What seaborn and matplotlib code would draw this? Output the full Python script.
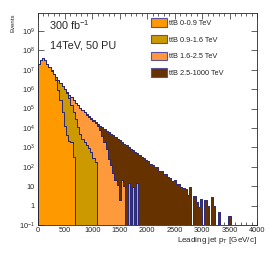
import numpy as np
import pandas as pd
import matplotlib
matplotlib.use("Agg")
import matplotlib.pyplot as plt
import seaborn as sns
from matplotlib.patches import Patch
from matplotlib.ticker import FixedLocator, MultipleLocator, LogLocator, NullFormatter

# --- DATA (events per 40 GeV bin, bins start at 0) ---
BIN_WIDTH = 40
samples = ["ttB 0-0.9 TeV", "ttB 0.9-1.6 TeV", "ttB 1.6-2.5 TeV", "ttB 2.5-1000 TeV"]
labels = ["tt\u0304B 0-0.9 TeV", "tt\u0304B 0.9-1.6 TeV", "tt\u0304B 1.6-2.5 TeV", "tt\u0304B 2.5-1000 TeV"]
colors = ["#ff9900", "#cc9900", "#ff9a3c", "#663300"]

ht_0_09 = [1.98e7, 3.28e7, 4.15e7, 3.12e7, 1.94e7, 1.33e7, 8.6e6, 5.9e6, 2.8e6, 9.0e5,
           2.8e5, 6.5e4, 1.3e4, 4.5e3, 2.2e3, 1.9e3, 3.2e2]
ht_09_16 = [1e5, 2e5, 3e5, 4e5, 5e5, 6e5, 7e5, 4.0e5, 1.58e6, 2.07e6,
            1.78e6, 1.375e6, 9.57e5, 6.155e5, 3.58e5, 1.58e5, 6.3e4, 2.8e4, 1.1e4, 5.0e3,
            2.8e3, 2.0e3, 1.26e3, 9.0e2, 5.6e2, 2.8e2, 1.8e2]
ht_16_25 = [2e3, 3e3, 4e3, 5e3, 6e3, 8e3, 1e4, 1.5e4, 2e4, 3e4,
            4e4, 6e4, 8e4, 1.0e5, 1.5e5, 2.2e5, 2.1e5, 1.71e5, 1.33e5, 1.01e5,
            7.7e4, 6.2e4, 4.77e4, 3.76e4, 2.94e4, 2.22e4, 1.7e4, 1.26e4, 7.9e3, 4.0e3,
            2.0e3, 7.9e2, 2.5e2, 1.26e2, 50, 22, 11, 2, 20, 10,
            0, 14, 0, 9, 0, 14]
ht_25_1000 = [2e2, 2e2, 2e2, 2e2, 2e2, 2e2, 2e2, 2e2, 2e2, 2e2,
              2e2, 2e2, 2e2, 5e2, 5e2, 5e2, 5e2, 5e2, 1e3, 1e3,
              1e3, 1e3, 2.0e3, 2.5e3, 3.0e3, 3.5e3, 3.8e3, 4.0e3, 5.3e3, 7.0e3,
              6.9e3, 6.6e3, 5.95e3, 4.87e3, 4.15e3, 3.38e3, 2.79e3, 2.3e3, 1.88e3, 1.54e3,
              1.29e3, 1.056e3, 8.7e2, 7.1e2, 5.9e2, 4.75e2, 4.0e2, 3.3e2, 2.7e2, 2.24e2,
              1.95e2, 1.45e2, 1.3e2, 95, 92, 64, 60, 44, 42, 30,
              28, 19, 20, 13, 13, 9, 8, 7.5, 3.5, 9.5,
              0, 3, 1.6, 0.8, 2.2, 0, 2.0, 1.0, 0, 2.8,
              1.0, 0, 0.45, 0, 0, 0, 0, 0.3]

series = [ht_0_09, ht_09_16, ht_16_25, ht_25_1000]

rows = []
for name, counts in zip(samples, series):
    for i, c in enumerate(counts):
        rows.append({"pt": BIN_WIDTH * i + BIN_WIDTH / 2, "events": c, "sample": name})
df = pd.DataFrame(rows)

edges = list(range(0, 4000 + BIN_WIDTH, BIN_WIDTH))

sns.set_style("ticks")
plt.rcParams["font.family"] = ["Liberation Sans", "DejaVu Sans"]
plt.rcParams["mathtext.fontset"] = "custom"
plt.rcParams["mathtext.rm"] = "Liberation Sans"
plt.rcParams["mathtext.default"] = "regular"

fig = plt.figure(figsize=(2.70, 2.59), dpi=100)
ax = fig.add_axes([0.1389, 0.1313, 0.813, 0.8173])

# first hue level ends on top of the stack, so reverse
sns.histplot(data=df, x="pt", weights="events", hue="sample",
             hue_order=samples[::-1], palette=dict(zip(samples, colors)),
             multiple="stack", bins=edges, element="step", alpha=1,
             edgecolor="#2a2878", linewidth=0.7, legend=False, ax=ax)

ax.set_yscale("log")
ax.set_xlim(0, 4000)
ax.set_ylim(0.1, 8.1e9)

# ROOT-like ticks
ax.set_xticks(range(0, 4001, 500))
ax.set_xticklabels([str(v) for v in range(0, 4001, 500)])
ax.xaxis.set_minor_locator(MultipleLocator(100))
ydec = [10.0 ** k for k in range(-1, 10)]
ylabs = ["$10^{-1}$", "1", "10"] + ["$10^{%d}$" % k for k in range(2, 10)]
ax.yaxis.set_major_locator(FixedLocator(ydec))
ax.set_yticklabels(ylabs)
ax.yaxis.set_minor_locator(LogLocator(base=10, subs=np.arange(2, 10)))
ax.yaxis.set_minor_formatter(NullFormatter())
ax.tick_params(which="both", direction="in", top=True, right=True, width=0.5, labelsize=5.3)
ax.tick_params(axis="x", pad=1.5)
ax.tick_params(axis="y", pad=2)
ax.tick_params(which="major", length=4.3)
ax.tick_params(which="minor", length=2.2)
for s in ax.spines.values():
    s.set_linewidth(0.6)

ax.set_xlabel("")
ax.set_ylabel("")
ax.text(1.0, -0.072, "Leading jet p$_{T}$ [GeV/c]", transform=ax.transAxes,
        ha="right", va="center", fontsize=5.8)
ax.text(-0.113, 1.0, "Events", transform=ax.transAxes, rotation=90,
        ha="center", va="top", fontsize=4.3)

ax.text(0.054, 0.921, "300 fb$^{-1}$", transform=ax.transAxes, fontsize=7.8, va="baseline")
ax.text(0.057, 0.835, "14TeV, 50 PU", transform=ax.transAxes, fontsize=7.8, va="baseline")

handles = [Patch(facecolor=c, edgecolor="#5a50a8", linewidth=0.8) for c in colors]
ax.legend(handles, labels, loc="upper left", bbox_to_anchor=(0.516, 0.976),
          frameon=False, fontsize=5.3, handlelength=2.17, handleheight=1.36,
          labelspacing=1.09, handletextpad=0.35, borderpad=0, borderaxespad=0)

fig.savefig("out.png", dpi=100)
